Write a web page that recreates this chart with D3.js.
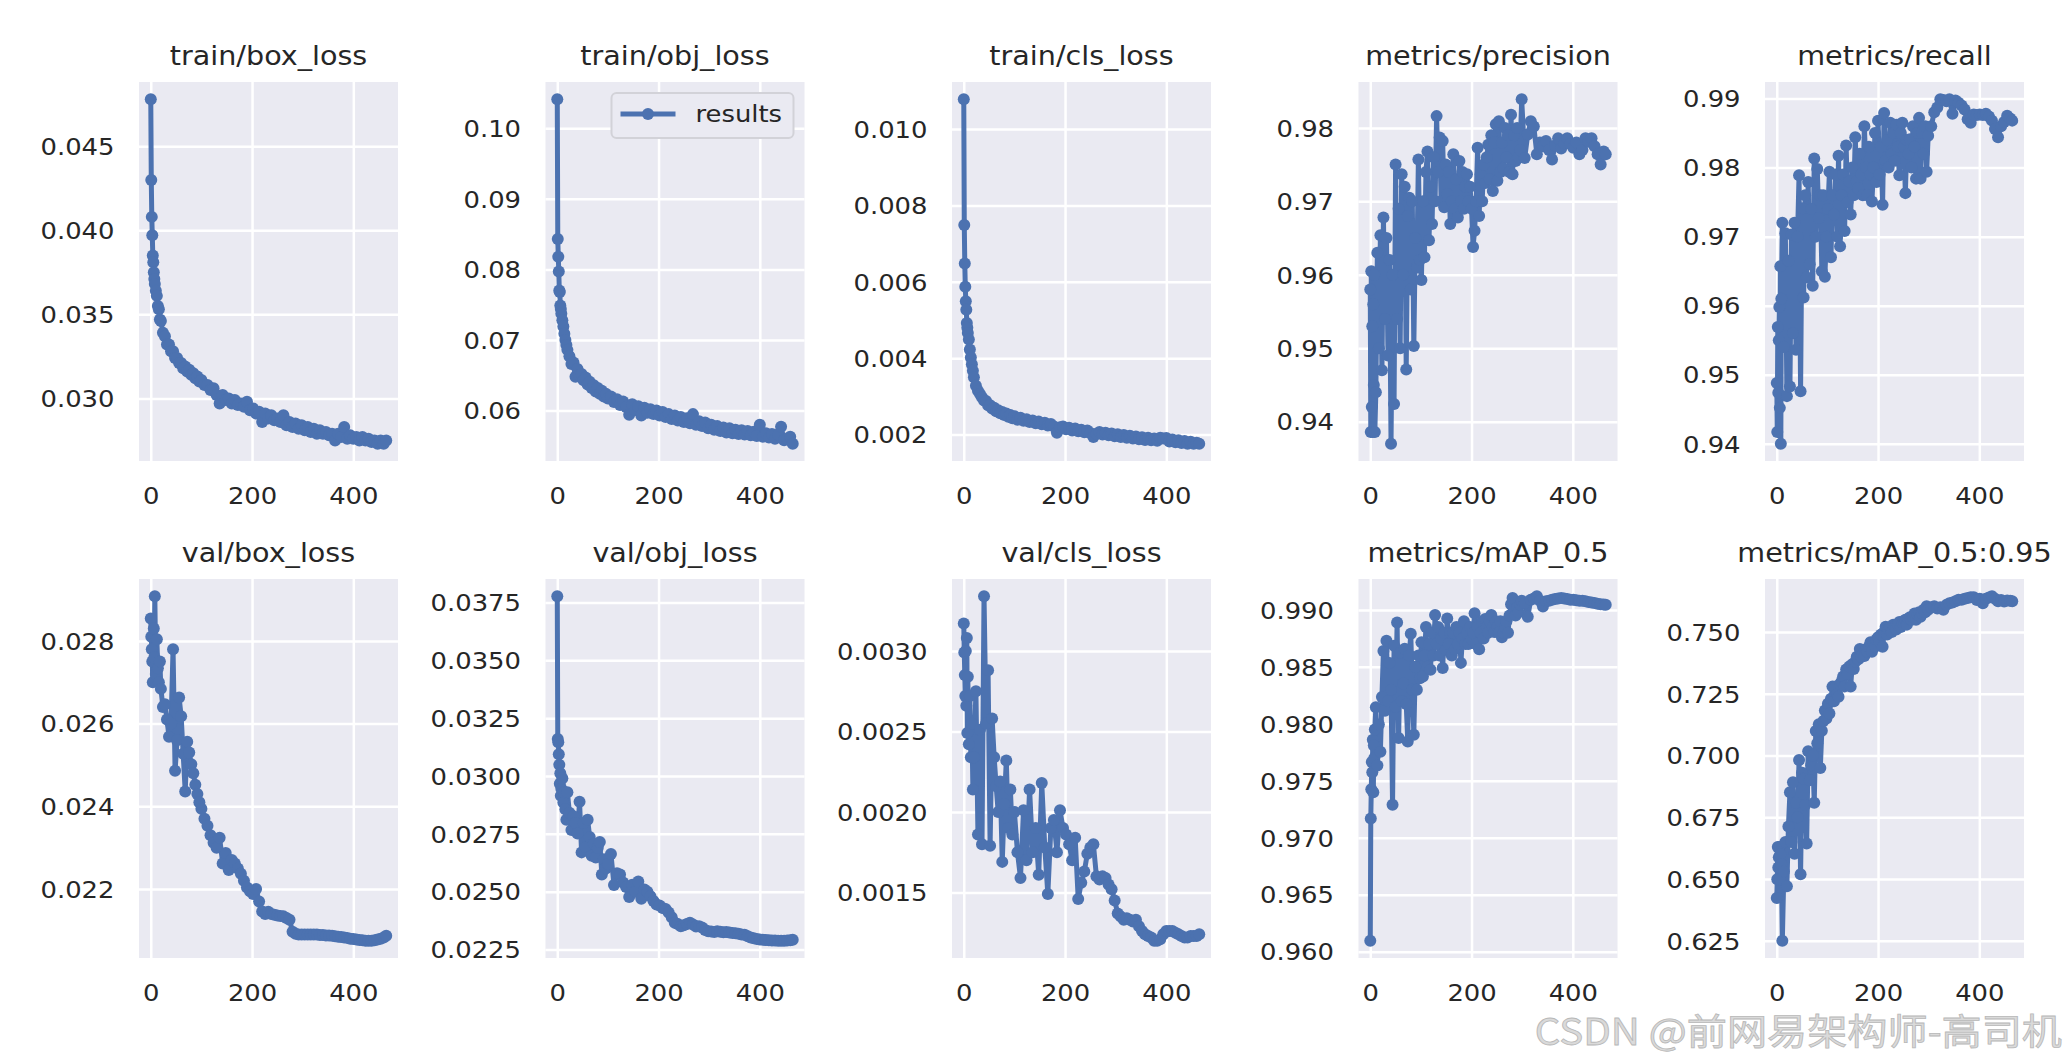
<!DOCTYPE html>
<html>
<head>
<meta charset="utf-8">
<script src="https://cdn.jsdelivr.net/npm/d3@7"></script>
<style>
  body { margin: 0; background: #ffffff; }
  svg text { font-family: "DejaVu Sans", sans-serif; fill: #262626; }
</style>
</head>
<body>
<div id="chart"></div>
<script>
var epochs = [
  0, 1, 2, 3, 4, 5, 6, 7, 8, 10,
  12, 14, 16, 18, 20, 24, 28, 32, 36, 40,
  44, 48, 52, 56, 60, 64, 68, 72, 76, 80,
  84, 88, 92, 96, 100, 106, 112, 118, 124, 130,
  136, 142, 148, 154, 160, 166, 172, 178, 184, 190,
  196, 202, 208, 214, 220, 226, 232, 238, 244, 250,
  256, 262, 268, 274, 280, 286, 292, 298, 304, 310,
  316, 322, 328, 334, 340, 346, 352, 358, 364, 370,
  376, 382, 388, 394, 400, 406, 412, 418, 424, 430,
  436, 442, 448, 454, 460, 465
];

// denser epoch list for the noisy metric curves
var epochsDense = [
  0, 1, 2, 3, 4, 5, 6, 7, 8, 9,
  11, 14, 17, 20, 23, 26, 29, 32, 35, 38,
  41, 44, 47, 50, 53, 56, 59, 62, 65, 68,
  71, 74, 77, 80, 83, 86, 89, 92, 95, 98,
  101, 104, 107, 110, 113, 116, 119, 122, 125, 128,
  131, 134, 137, 140, 143, 146, 149, 152, 155, 158,
  161, 164, 167, 170, 173, 176, 179, 182, 185, 188,
  191, 194, 197, 200, 203, 206, 209, 212, 215, 218,
  221, 224, 227, 230, 233, 236, 239, 242, 245, 248,
  251, 254, 257, 260, 263, 266, 269, 272, 275, 278,
  281, 284, 287, 290, 293, 296, 299, 305, 311, 317,
  323, 329, 335, 341, 347, 353, 359, 365, 371, 377,
  383, 389, 395, 401, 407, 413, 419, 425, 431, 437,
  443, 449, 455, 461, 465
];

var trainBoxLoss = [
  0.0478, 0.0430, 0.0408, 0.0397, 0.0385, 0.0381, 0.0375, 0.0371, 0.0368, 0.0364,
  0.0361, 0.0355, 0.0353, 0.0347, 0.0346, 0.0339, 0.0337, 0.0332, 0.0332, 0.0328,
  0.0328, 0.0324, 0.0324, 0.0321, 0.0321, 0.0318, 0.0319, 0.0316, 0.0317, 0.0314,
  0.0315, 0.0312, 0.0313, 0.0310, 0.0311, 0.0308, 0.0308, 0.0305, 0.0306, 0.0302,
  0.0297, 0.0302, 0.0299, 0.0300, 0.0297, 0.0299, 0.0296, 0.0297, 0.0295, 0.0298,
  0.0293, 0.0294, 0.0291, 0.0292, 0.0286, 0.0291, 0.0288, 0.0290, 0.0287, 0.0288,
  0.0286, 0.0290, 0.0284, 0.0286, 0.0283, 0.0285, 0.0282, 0.0284, 0.0281, 0.0283,
  0.0280, 0.0282, 0.0279, 0.0281, 0.0279, 0.0280, 0.0278, 0.0279, 0.0275, 0.0279,
  0.0277, 0.0283, 0.0276, 0.0278, 0.0276, 0.0277, 0.0275, 0.0277, 0.0275, 0.0276,
  0.0274, 0.0275, 0.0273, 0.0275, 0.0273, 0.0275
];

var trainObjLoss = [
  0.1041, 0.0843, 0.0818, 0.0797, 0.0770, 0.0768, 0.0749, 0.0744, 0.0737, 0.0728,
  0.0719, 0.0709, 0.0700, 0.0693, 0.0686, 0.0677, 0.0666, 0.0668, 0.0648, 0.0659,
  0.0650, 0.0652, 0.0643, 0.0647, 0.0637, 0.0641, 0.0632, 0.0636, 0.0627, 0.0632,
  0.0624, 0.0628, 0.0620, 0.0624, 0.0617, 0.0620, 0.0612, 0.0616, 0.0608, 0.0613,
  0.0605, 0.0594, 0.0609, 0.0601, 0.0606, 0.0593, 0.0604, 0.0597, 0.0602, 0.0595,
  0.0600, 0.0593, 0.0598, 0.0591, 0.0595, 0.0588, 0.0593, 0.0586, 0.0591, 0.0584,
  0.0589, 0.0582, 0.0595, 0.0580, 0.0585, 0.0578, 0.0583, 0.0575, 0.0580, 0.0573,
  0.0578, 0.0571, 0.0576, 0.0569, 0.0575, 0.0568, 0.0573, 0.0567, 0.0572, 0.0566,
  0.0571, 0.0565, 0.0570, 0.0564, 0.0580, 0.0563, 0.0568, 0.0562, 0.0567, 0.0560,
  0.0566, 0.0577, 0.0558, 0.0560, 0.0563, 0.0553
];

var trainClsLoss = [
  0.01078, 0.00749, 0.00648, 0.00587, 0.00549, 0.00527, 0.00492, 0.00480, 0.00466, 0.00449,
  0.00423, 0.00402, 0.00384, 0.00367, 0.00350, 0.00328, 0.00315, 0.00306, 0.00298, 0.00289,
  0.00288, 0.00277, 0.00277, 0.00268, 0.00270, 0.00261, 0.00264, 0.00256, 0.00259, 0.00251,
  0.00255, 0.00247, 0.00251, 0.00243, 0.00248, 0.00239, 0.00244, 0.00236, 0.00240, 0.00233,
  0.00237, 0.00230, 0.00234, 0.00227, 0.00231, 0.00224, 0.00228, 0.00221, 0.00205, 0.00219,
  0.00221, 0.00214, 0.00218, 0.00211, 0.00216, 0.00209, 0.00213, 0.00206, 0.00211, 0.00204,
  0.00194, 0.00202, 0.00207, 0.00200, 0.00205, 0.00198, 0.00203, 0.00196, 0.00201, 0.00194,
  0.00199, 0.00192, 0.00197, 0.00190, 0.00195, 0.00188, 0.00193, 0.00186, 0.00192, 0.00185,
  0.00190, 0.00184, 0.00192, 0.00190, 0.00191, 0.00182, 0.00187, 0.00180, 0.00185, 0.00178,
  0.00183, 0.00176, 0.00181, 0.00176, 0.00179, 0.00176
];

var precision = [
  0.9580, 0.9386, 0.9605, 0.9420, 0.9530, 0.9386, 0.9560, 0.9450, 0.9600, 0.9386,
  0.9440, 0.9630, 0.9500, 0.9654, 0.9470, 0.9678, 0.9540, 0.9650, 0.9490, 0.9620,
  0.9370, 0.9600, 0.9424, 0.9750, 0.9540, 0.9690, 0.9500, 0.9737, 0.9600, 0.9720,
  0.9471, 0.9680, 0.9705, 0.9580, 0.9700, 0.9503, 0.9650, 0.9610, 0.9757, 0.9620,
  0.9593, 0.9700, 0.9624, 0.9740, 0.9768, 0.9647, 0.9720, 0.9669, 0.9760, 0.9700,
  0.9816, 0.9740, 0.9787, 0.9700, 0.9782, 0.9692, 0.9750, 0.9710, 0.9740, 0.9669,
  0.9700, 0.9764, 0.9690, 0.9730, 0.9678, 0.9755, 0.9700, 0.9740, 0.9690, 0.9720,
  0.9737, 0.9700, 0.9720, 0.9690, 0.9638, 0.9660, 0.9700, 0.9773, 0.9680, 0.9737,
  0.9700, 0.9750, 0.9725, 0.9760, 0.9777, 0.9730, 0.9790, 0.9714, 0.9780, 0.9805,
  0.9728, 0.9809, 0.9740, 0.9780, 0.9745, 0.9800, 0.9760, 0.9790, 0.9740, 0.9818,
  0.9737, 0.9790, 0.9755, 0.9800, 0.9760, 0.9770, 0.9839, 0.9759, 0.9791, 0.9809,
  0.9802, 0.9764, 0.9780, 0.9775, 0.9782, 0.9770, 0.9757, 0.9776, 0.9786, 0.9772,
  0.9779, 0.9786, 0.9778, 0.9773, 0.9780, 0.9764, 0.9770, 0.9786, 0.9781, 0.9786,
  0.9775, 0.9764, 0.9750, 0.9768, 0.9764
];

var recall = [
  0.9488, 0.9417, 0.9569, 0.9474, 0.9550, 0.9598, 0.9452, 0.9657, 0.9400, 0.9610,
  0.9720, 0.9540, 0.9705, 0.9469, 0.9665, 0.9483, 0.9703, 0.9560, 0.9720, 0.9536,
  0.9700, 0.9789, 0.9476, 0.9741, 0.9612, 0.9760, 0.9641, 0.9779, 0.9660, 0.9740,
  0.9629, 0.9813, 0.9700, 0.9798, 0.9727, 0.9760, 0.9650, 0.9760, 0.9642, 0.9700,
  0.9740, 0.9794, 0.9670, 0.9760, 0.9732, 0.9790, 0.9700, 0.9817, 0.9686, 0.9760,
  0.9790, 0.9708, 0.9832, 0.9750, 0.9780, 0.9732, 0.9800, 0.9760, 0.9844, 0.9780,
  0.9770, 0.9820, 0.9790, 0.9760, 0.9860, 0.9800, 0.9760, 0.9830, 0.9790, 0.9751,
  0.9800, 0.9850, 0.9779, 0.9868, 0.9790, 0.9830, 0.9746, 0.9879, 0.9810, 0.9840,
  0.9800, 0.9865, 0.9820, 0.9850, 0.9810, 0.9862, 0.9830, 0.9789, 0.9850, 0.9865,
  0.9830, 0.9763, 0.9840, 0.9820, 0.9841, 0.9800, 0.9860, 0.9830, 0.9784, 0.9850,
  0.9872, 0.9784, 0.9850, 0.9820, 0.9860, 0.9794, 0.9846, 0.9860, 0.9880, 0.9887,
  0.9899, 0.9898, 0.9896, 0.9899, 0.9878, 0.9897, 0.9894, 0.9890, 0.9884, 0.9870,
  0.9865, 0.9877, 0.9876, 0.9877, 0.9876, 0.9878, 0.9874, 0.9868, 0.9856, 0.9844,
  0.9860, 0.9866, 0.9875, 0.9871, 0.9868
];

var valBoxLoss = [
  0.02854, 0.02810, 0.02780, 0.02750, 0.02700, 0.02750, 0.02830, 0.02760, 0.02908, 0.02720,
  0.02804, 0.02734, 0.02700, 0.02750, 0.02684, 0.02640, 0.02647, 0.02610, 0.02568, 0.02600,
  0.02780, 0.02486, 0.02560, 0.02663, 0.02618, 0.02527, 0.02436, 0.02556, 0.02530, 0.02502,
  0.02480, 0.02452, 0.02430, 0.02410, 0.02394, 0.02370, 0.02353, 0.02330, 0.02312, 0.02300,
  0.02324, 0.02262, 0.02287, 0.02246, 0.02270, 0.02262, 0.02250, 0.02237, 0.02220, 0.02204,
  0.02195, 0.02188, 0.02200, 0.02170, 0.02146, 0.02140, 0.02145, 0.02140, 0.02138, 0.02136,
  0.02135, 0.02134, 0.02130, 0.02126, 0.02097, 0.02092, 0.02090, 0.02090, 0.02090, 0.02090,
  0.02090, 0.02090, 0.02090, 0.02089, 0.02089, 0.02088, 0.02088, 0.02087, 0.02086, 0.02085,
  0.02084, 0.02083, 0.02082, 0.02080, 0.02079, 0.02078, 0.02077, 0.02076, 0.02075, 0.02075,
  0.02075, 0.02076, 0.02078, 0.02080, 0.02083, 0.02087
];

var valObjLoss = [
  0.03777, 0.03160, 0.03146, 0.03094, 0.03049, 0.02967, 0.03012, 0.02915, 0.02945, 0.02990,
  0.02886, 0.02930, 0.02856, 0.02811, 0.02930, 0.02841, 0.02767, 0.02826, 0.02797, 0.02752,
  0.02889, 0.02670, 0.02797, 0.02693, 0.02811, 0.02737, 0.02655, 0.02707, 0.02648, 0.02690,
  0.02715, 0.02574, 0.02640, 0.02600, 0.02620, 0.02663, 0.02529, 0.02580, 0.02574, 0.02540,
  0.02520, 0.02477, 0.02530, 0.02500, 0.02544, 0.02470, 0.02510, 0.02500, 0.02480, 0.02460,
  0.02445, 0.02440, 0.02430, 0.02425, 0.02410, 0.02390, 0.02366, 0.02360, 0.02351, 0.02355,
  0.02360, 0.02366, 0.02358, 0.02350, 0.02351, 0.02345, 0.02335, 0.02329, 0.02328, 0.02326,
  0.02329, 0.02327, 0.02325, 0.02326, 0.02324, 0.02322, 0.02320, 0.02318, 0.02315, 0.02314,
  0.02308, 0.02302, 0.02299, 0.02296, 0.02294, 0.02292, 0.02291, 0.02290, 0.02289, 0.02289,
  0.02288, 0.02288, 0.02288, 0.02289, 0.02290, 0.02292
];

var valClsLoss = [
  0.00317, 0.00299, 0.00285, 0.00272, 0.00300, 0.00266, 0.00308, 0.00249, 0.00284, 0.00242,
  0.00272, 0.00234, 0.00255, 0.00214, 0.00234, 0.00275, 0.00186, 0.00251, 0.00180, 0.00334,
  0.00255, 0.00288, 0.00179, 0.00258, 0.00234, 0.00216, 0.00200, 0.00219, 0.00169, 0.00205,
  0.00232, 0.00190, 0.00214, 0.00186, 0.00200, 0.00175, 0.00159, 0.00201, 0.00170, 0.00214,
  0.00175, 0.00190, 0.00161, 0.00218, 0.00178, 0.00149, 0.00190, 0.00195, 0.00175, 0.00201,
  0.00190, 0.00186, 0.00180, 0.00170, 0.00184, 0.00146, 0.00156, 0.00163, 0.00174, 0.00178,
  0.00180, 0.00160, 0.00158, 0.00160, 0.00159, 0.00155, 0.00152, 0.00145, 0.00137, 0.00135,
  0.00133, 0.00134, 0.00133, 0.00132, 0.00133, 0.00129, 0.00126, 0.00124, 0.00123, 0.00122,
  0.00120, 0.00120, 0.00121, 0.00124, 0.00126, 0.00126, 0.00126, 0.00125, 0.00124, 0.00123,
  0.00122, 0.00122, 0.00123, 0.00123, 0.00123, 0.00124
];

var mAP50 = [
  0.96096, 0.97170, 0.97425, 0.97665, 0.97575, 0.97860, 0.97400, 0.97810, 0.97700, 0.97950,
  0.98145, 0.97635, 0.97995, 0.97755, 0.98235, 0.98640, 0.98115, 0.98730, 0.98200, 0.98535,
  0.98300, 0.97290, 0.98685, 0.98150, 0.98890, 0.97875, 0.98625, 0.98200, 0.98355, 0.98660,
  0.98175, 0.97845, 0.98600, 0.98790, 0.98300, 0.97905, 0.98500, 0.98300, 0.98600, 0.98400,
  0.98715, 0.98415, 0.98600, 0.98850, 0.98500, 0.98700, 0.98475, 0.98800, 0.98600, 0.98955,
  0.98700, 0.98850, 0.98600, 0.98750, 0.98490, 0.98800, 0.98650, 0.98925, 0.98700, 0.98800,
  0.98600, 0.98800, 0.98655, 0.98850, 0.98700, 0.98800, 0.98535, 0.98750, 0.98900, 0.98700,
  0.98800, 0.98700, 0.98850, 0.98745, 0.98800, 0.98970, 0.98700, 0.98850, 0.98655, 0.98800,
  0.98900, 0.98750, 0.98920, 0.98850, 0.98800, 0.98900, 0.98955, 0.98850, 0.98805, 0.98900,
  0.98850, 0.98800, 0.98900, 0.98760, 0.98800, 0.98850, 0.98900, 0.98800, 0.98950, 0.99050,
  0.99105, 0.99000, 0.98950, 0.99020, 0.98980, 0.99045, 0.99080, 0.99060, 0.98940, 0.99090,
  0.99100, 0.99120, 0.99080, 0.99030, 0.99075, 0.99080, 0.99090, 0.99095, 0.99100, 0.99105,
  0.99100, 0.99095, 0.99090, 0.99090, 0.99085, 0.99080, 0.99080, 0.99075, 0.99070, 0.99065,
  0.99060, 0.99055, 0.99050, 0.99048, 0.99045
];

var mAP5095 = [
  0.6423, 0.6499, 0.6630, 0.6547, 0.6588, 0.6630, 0.6499, 0.6600, 0.6547, 0.6560,
  0.6250, 0.6530, 0.6650, 0.6471, 0.6713, 0.6851, 0.6650, 0.6892, 0.6602, 0.6809,
  0.6750, 0.6982, 0.6519, 0.6930, 0.6906, 0.6800, 0.6644, 0.7017, 0.6900, 0.6961,
  0.7000, 0.6809, 0.7099, 0.7050, 0.7127, 0.6950, 0.7100, 0.7140, 0.7182, 0.7150,
  0.7210, 0.7170, 0.7230, 0.7279, 0.7220, 0.7279, 0.7250, 0.7238, 0.7290, 0.7300,
  0.7320, 0.7280, 0.7348, 0.7330, 0.7360, 0.7279, 0.7370, 0.7350, 0.7380, 0.7400,
  0.7390, 0.7431, 0.7400, 0.7410, 0.7403, 0.7430, 0.7420, 0.7440, 0.7459, 0.7420,
  0.7459, 0.7440, 0.7470, 0.7479, 0.7460, 0.7490, 0.7440, 0.7500, 0.7521, 0.7490,
  0.7510, 0.7520, 0.7500, 0.7530, 0.7520, 0.7510, 0.7530, 0.7541, 0.7520, 0.7540,
  0.7545, 0.7550, 0.7530, 0.7555, 0.7560, 0.7550, 0.7562, 0.7575, 0.7550, 0.7570,
  0.7580, 0.7562, 0.7575, 0.7590, 0.7580, 0.7604, 0.7590, 0.7600, 0.7604, 0.7595,
  0.7600, 0.7590, 0.7610, 0.7617, 0.7620, 0.7625, 0.7631, 0.7631, 0.7635, 0.7638,
  0.7641, 0.7641, 0.7630, 0.7635, 0.7617, 0.7635, 0.7640, 0.7645, 0.7635, 0.7625,
  0.7630, 0.7624, 0.7628, 0.7627, 0.7625
];

var titles = ["train/box_loss", "train/obj_loss", "train/cls_loss", "metrics/precision", "metrics/recall",
  "val/box_loss", "val/obj_loss", "val/cls_loss", "metrics/mAP_0.5", "metrics/mAP_0.5:0.95"];

// y tick labels for each panel, same order as titles
var yTicks = [
  ["0.030", "0.035", "0.040", "0.045"],
  ["0.06", "0.07", "0.08", "0.09", "0.10"],
  ["0.002", "0.004", "0.006", "0.008", "0.010"],
  ["0.94", "0.95", "0.96", "0.97", "0.98"],
  ["0.94", "0.95", "0.96", "0.97", "0.98", "0.99"],
  ["0.022", "0.024", "0.026", "0.028"],
  ["0.0225", "0.0250", "0.0275", "0.0300", "0.0325", "0.0350", "0.0375"],
  ["0.0015", "0.0020", "0.0025", "0.0030"],
  ["0.960", "0.965", "0.970", "0.975", "0.980", "0.985", "0.990"],
  ["0.625", "0.650", "0.675", "0.700", "0.725", "0.750"]
];
var xTicks = [0, 200, 400];
var legendLabel = "results";
var watermark = "CSDN @前网易架构师-高司机";

var panels = [
  { x: epochs, y: trainBoxLoss },
  { x: epochs, y: trainObjLoss },
  { x: epochs, y: trainClsLoss },
  { x: epochsDense, y: precision },
  { x: epochsDense, y: recall },
  { x: epochs, y: valBoxLoss },
  { x: epochs, y: valObjLoss },
  { x: epochs, y: valClsLoss },
  { x: epochsDense, y: mAP50 },
  { x: epochsDense, y: mAP5095 }
];

var width = 2066, height = 1058;
var plotW = 259, plotH = 379;
var colX = [139, 545.5, 952, 1358.5, 1765];
var rowY = [82, 579];
var stretch = 1.1;   // the text in the picture is a bit wider than it is tall
var blue = "#4c72b0";

var svg = d3.select("#chart")
    .append("svg")
    .attr("width", width)
    .attr("height", height);

panels.forEach(function (p, i) {
    var left = colX[i % 5];
    var top = rowY[Math.floor(i / 5)];
    var g = svg.append("g").attr("transform", `translate(${left},${top})`);

    g.append("rect")
        .attr("width", plotW)
        .attr("height", plotH)
        .attr("fill", "#eaeaf2");

    // matplotlib style 5% margins round the data
    var xExt = d3.extent(p.x);
    var xPad = (xExt[1] - xExt[0]) * 0.05;
    var yExt = d3.extent(p.y);
    var yPad = (yExt[1] - yExt[0]) * 0.05;

    var x = d3.scaleLinear()
        .domain([xExt[0] - xPad, xExt[1] + xPad])
        .range([0, plotW]);
    var y = d3.scaleLinear()
        .domain([yExt[0] - yPad, yExt[1] + yPad])
        .range([plotH, 0]);

    // grid + tick labels
    var labels = yTicks[i];
    var yAxis = g.append("g")
        .call(d3.axisLeft(y)
            .tickValues(labels.map(Number))
            .tickSize(-plotW)
            .tickFormat(function (d, j) { return labels[j]; }));
    var xAxis = g.append("g")
        .attr("transform", `translate(0,${plotH})`)
        .call(d3.axisBottom(x)
            .tickValues(xTicks)
            .tickSize(-plotH)
            .tickFormat(d3.format("d")));

    [yAxis, xAxis].forEach(function (ax) {
        ax.attr("font-size", null).attr("font-family", null);
        ax.select(".domain").remove();
        ax.selectAll(".tick line").attr("stroke", "#ffffff").attr("stroke-width", 2.5);
        ax.selectAll(".tick text").attr("fill", "#262626").style("font-size", "23.5px");
    });
    yAxis.selectAll(".tick text")
        .attr("x", 0)
        .attr("dy", "0.35em")
        .attr("transform", `translate(-24.5,0) scale(${stretch},1)`);
    xAxis.selectAll(".tick text")
        .attr("y", 0)
        .attr("dy", 0)
        .attr("transform", `translate(0,43) scale(${stretch},1)`);

    var pts = d3.zip(p.x, p.y);
    var line = d3.line()
        .x(function (d) { return x(d[0]); })
        .y(function (d) { return y(d[1]); });

    g.append("path")
        .datum(pts)
        .attr("d", line)
        .attr("fill", "none")
        .attr("stroke", blue)
        .attr("stroke-width", 5)
        .attr("stroke-linejoin", "round");

    g.selectAll("circle.pt")
        .data(pts)
        .enter()
        .append("circle")
        .attr("class", "pt")
        .attr("cx", function (d) { return x(d[0]); })
        .attr("cy", function (d) { return y(d[1]); })
        .attr("r", 6)
        .attr("fill", blue);

    g.append("text")
        .attr("text-anchor", "middle")
        .attr("transform", `translate(${plotW / 2},-17) scale(${stretch},1)`)
        .style("font-size", "26px")
        .text(titles[i]);

    // legend only on the second panel
    if (i === 1) {
        var lg = g.append("g").attr("transform", `translate(${plotW - 193},11)`);
        lg.append("rect")
            .attr("width", 182)
            .attr("height", 45)
            .attr("rx", 5)
            .attr("fill", "#eaeaf2")
            .attr("stroke", "#d2d2d8")
            .attr("stroke-width", 2);
        lg.append("line")
            .attr("x1", 9).attr("x2", 64)
            .attr("y1", 21).attr("y2", 21)
            .attr("stroke", blue)
            .attr("stroke-width", 5);
        lg.append("circle")
            .attr("cx", 36.5).attr("cy", 21).attr("r", 6)
            .attr("fill", blue);
        lg.append("text")
            .attr("transform", `translate(84,29) scale(${stretch},1)`)
            .style("font-size", "23.5px")
            .text(legendLabel);
    }
});

// faint site watermark, bottom right
svg.append("text")
    .attr("text-anchor", "end")
    .attr("transform", `translate(2062,1045) scale(${stretch},1)`)
    .style("font-family", "'Noto Sans CJK SC', sans-serif")
    .style("font-size", "36.5px")
    .style("fill", "#dadada")
    .style("stroke", "#b8b8b8")
    .style("stroke-width", 0.8)
    .text(watermark);
</script>
</body>
</html>
